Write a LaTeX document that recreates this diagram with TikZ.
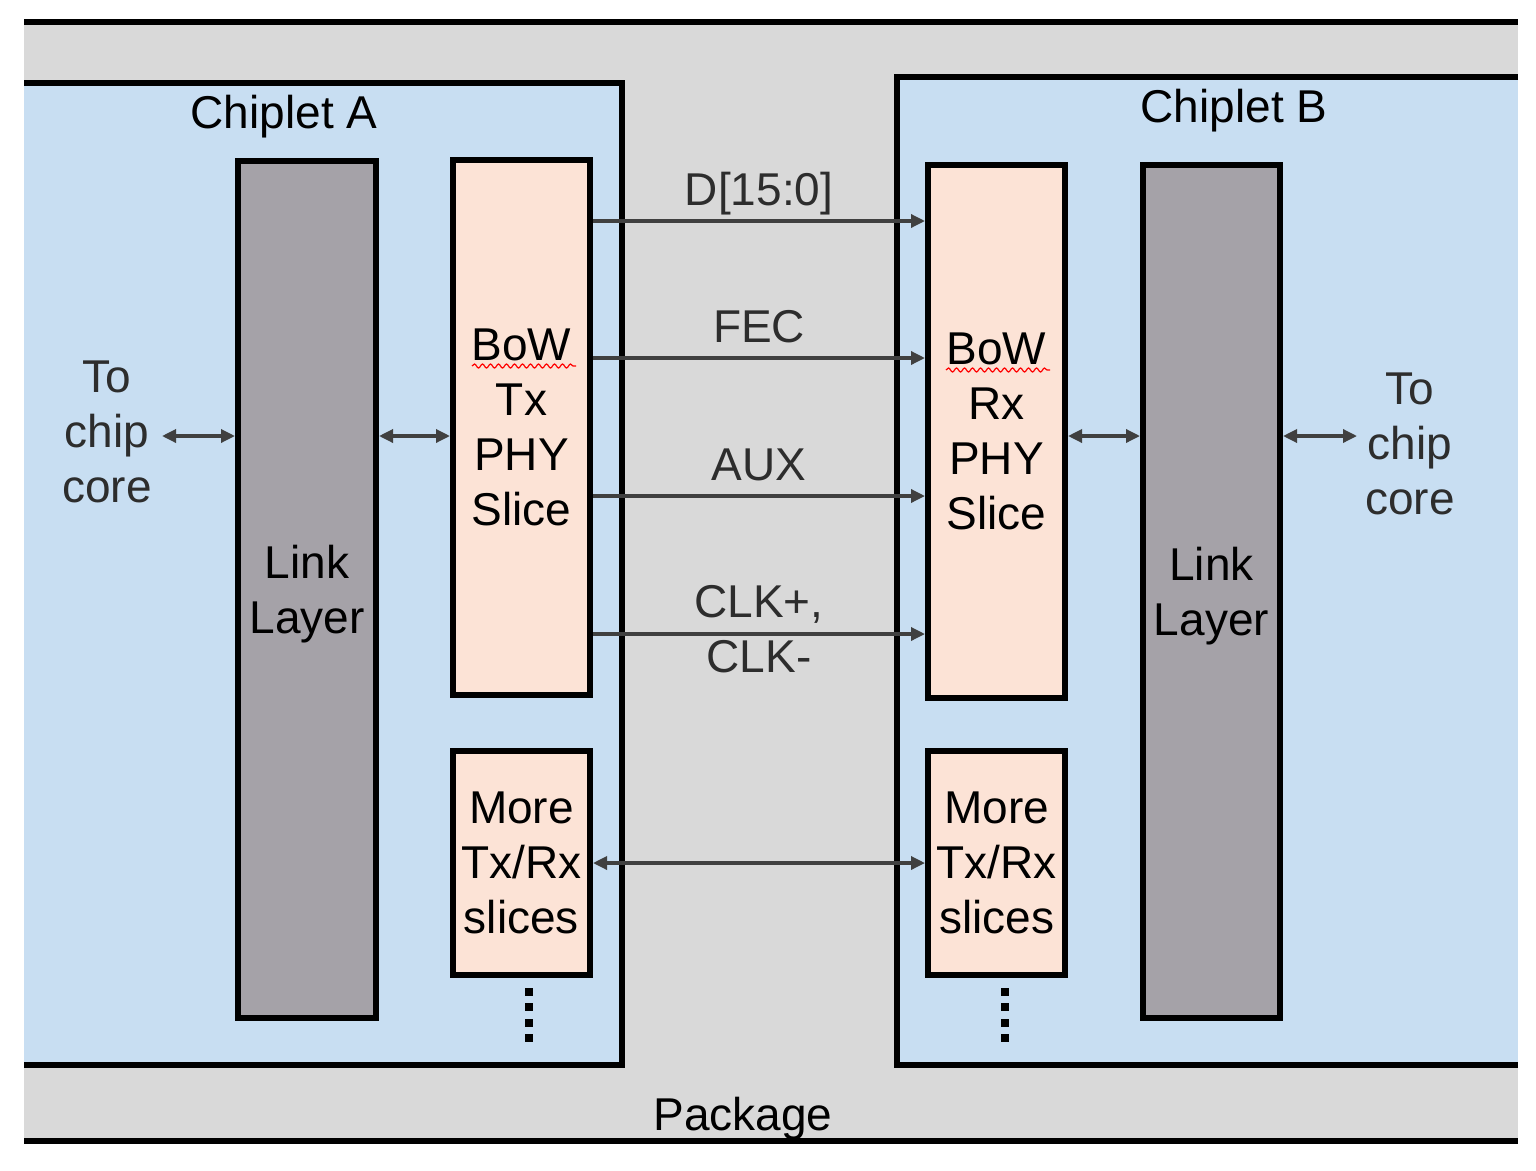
\documentclass[tikz,border=0pt]{standalone}
\usepackage{fontspec}
\setmainfont{Liberation Sans}
\usetikzlibrary{arrows.meta,decorations.pathmorphing}
\definecolor{pkggray}{RGB}{217,217,217}
\definecolor{chipblue}{RGB}{200,222,242}
\definecolor{linkgray}{RGB}{165,162,168}
\definecolor{phypeach}{RGB}{252,227,214}
\definecolor{arrowgray}{RGB}{64,64,64}
\definecolor{lblgray}{RGB}{45,45,45}
\begin{document}
\begin{tikzpicture}[x=1pt,y=-1pt,
  bigfont/.style={font=\fontsize{46}{55}\selectfont},
  blk/.style={draw=black, line width=6pt, inner sep=0pt, align=center, text depth=0pt, bigfont},
  linkbox/.style={blk, fill=linkgray},
  phybox/.style={blk, fill=phypeach},
  sig/.style={draw=arrowgray, line width=3.3pt, -{Triangle[length=14pt,width=13pt]}},
  dsig/.style={draw=arrowgray, line width=3.3pt, {Triangle[length=14pt,width=13pt]}-{Triangle[length=14pt,width=13pt]}},
  lbl/.style={text=lblgray, inner sep=0pt, bigfont},
  ttl/.style={text=black, inner sep=0pt, bigfont},
  frame/.style={draw=black, line width=6pt, line join=miter},
  wavy/.style={draw=red, line width=1.2pt, decorate, decoration={snake, amplitude=2pt, segment length=8pt}},
  dotsq/.style={fill=black}
]
\useasboundingbox (0,0) rectangle (1536,1170);
% package
\fill[pkggray] (24,22) rectangle (1518,1141);
\draw[frame] (24,22) -- (1518,22);
\draw[frame] (24,1141) -- (1518,1141);
% chiplets
\fill[chipblue] (24,83) rectangle (622,1065);
\draw[frame] (24,83) -- (622,83) -- (622,1065) -- (24,1065);
\fill[chipblue] (897,77) rectangle (1518,1065);
\draw[frame] (1518,77) -- (897,77) -- (897,1065) -- (1518,1065);
% titles
\node[ttl, anchor=base] (chipA) at (284,128) {Chiplet A};
\node[ttl, anchor=base] (chipB) at (1234,122) {Chiplet B};
\node[ttl, anchor=base] (pkg) at (743,1130) {Package};
% blocks
\node[linkbox, minimum width=138pt, minimum height=857pt] (linkA) at (307,589.5) {Link\\Layer};
\node[phybox, minimum width=137pt, minimum height=535pt] (txphy) at (521.5,427.5) {BoW\\Tx\\PHY\\Slice};
\node[phybox, minimum width=137pt, minimum height=224pt] (moreA) at (521.5,863) {More\\Tx/Rx\\slices};
\node[phybox, minimum width=137pt, minimum height=533pt] (rxphy) at (996.5,431.5) {BoW\\Rx\\PHY\\Slice};
\node[phybox, minimum width=137pt, minimum height=224pt] (moreB) at (996.5,863) {More\\Tx/Rx\\slices};
\node[linkbox, minimum width=137pt, minimum height=853pt] (linkB) at (1211.5,591.5) {Link\\Layer};
% spell-check underlines
\draw[wavy] (472,366) -- (576,366);
\draw[wavy] (946,370) -- (1050,370);
% signal levels
\coordinate (yD) at (0,221);
\coordinate (yF) at (0,358);
\coordinate (yA) at (0,496);
\coordinate (yC) at (0,634);
\coordinate (yM) at (0,436);
\coordinate (coreA) at (162,436);
\coordinate (coreB) at (1357,436);
% signals
\draw[sig] (txphy.east |- yD) -- (rxphy.west |- yD);
\draw[sig] (txphy.east |- yF) -- (rxphy.west |- yF);
\draw[sig] (txphy.east |- yA) -- (rxphy.west |- yA);
\draw[sig] (txphy.east |- yC) -- (rxphy.west |- yC);
\draw[dsig] (coreA) -- (linkA.west |- yM);
\draw[dsig] (linkA.east |- yM) -- (txphy.west |- yM);
\draw[dsig] (rxphy.east |- yM) -- (linkB.west |- yM);
\draw[dsig] (linkB.east |- yM) -- (coreB);
\draw[dsig] (moreA.east) -- (moreB.west);
% labels
\node[lbl, anchor=base] (lD) at (759,205) {D[15:0]};
\node[lbl, anchor=base] (lF) at (759,342) {FEC};
\node[lbl, anchor=base] (lA) at (759,480) {AUX};
\node[lbl, align=center, text depth=0pt] (lC) at (759,628.5) {CLK+,\\CLK-};
\node[lbl, align=center, text depth=0pt] (tcA) at (107,431.5) {To\\chip\\core};
\node[lbl, align=center, text depth=0pt] (tcB) at (1410,443.5) {To\\chip\\core};
% continuation dots
\foreach \yy in {992,1007,1022.5,1038} {
  \fill[dotsq] (525,\yy-4) rectangle (533,\yy+4);
  \fill[dotsq] (1001,\yy-4) rectangle (1009,\yy+4);
}
\end{tikzpicture}
\end{document}
